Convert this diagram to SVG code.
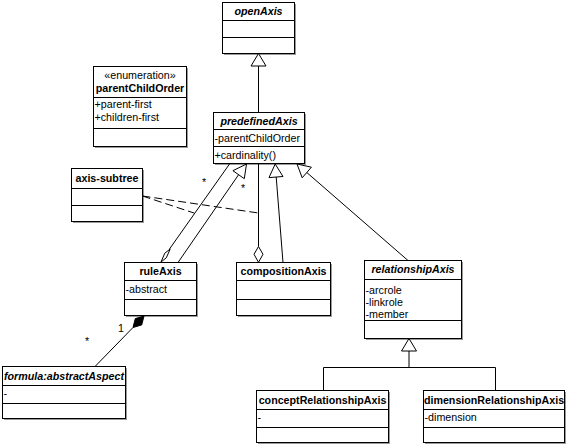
<svg xmlns="http://www.w3.org/2000/svg" width="569" height="444" viewBox="0 0 569 444">
<style>
.box{fill:#fff;stroke:#000;stroke-width:1}
.sh{fill:#9a9a9a;stroke:none}
.sep{stroke:#000;stroke-width:1}
text{font-family:"Liberation Sans",Arial,sans-serif;font-size:10.7px;fill:#000}
.t{font-weight:bold;text-anchor:middle}
.ti{font-weight:bold;font-style:italic;text-anchor:middle}
.c{text-anchor:middle}
.ln{stroke:#000;stroke-width:1;fill:none}
.dash{stroke:#000;stroke-width:1;fill:none;stroke-dasharray:8,4}
.tri{fill:#fff;stroke:#000;stroke-width:1}
.od{fill:#fff;stroke:#000;stroke-width:1}
.fd{fill:#000;stroke:#000;stroke-width:1}
</style>
<rect width="569" height="444" fill="#fff"/>

<g id="openAxis">
<rect class="sh" x="224" y="4" width="72" height="51"/>
<rect class="box" x="222.5" y="2.5" width="72" height="51"/>
<line class="sep" x1="222.5" y1="20.5" x2="294.5" y2="20.5"/>
<line class="sep" x1="222.5" y1="37.5" x2="294.5" y2="37.5"/>
<text class="ti" x="258.5" y="15">openAxis</text>
</g>

<g id="parentChildOrder">
<rect class="sh" x="95" y="68" width="93" height="80"/>
<rect class="box" x="93.5" y="66.5" width="93" height="80"/>
<line class="sep" x1="93.5" y1="97.5" x2="186.5" y2="97.5"/>
<line class="sep" x1="93.5" y1="128.5" x2="186.5" y2="128.5"/>
<text class="c" x="140" y="79">«enumeration»</text>
<text class="t" x="140" y="92">parentChildOrder</text>
<text x="94.5" y="108">+parent-first</text>
<text x="94.5" y="121">+children-first</text>
</g>

<g id="predefinedAxis">
<rect class="sh" x="215" y="114" width="91" height="51"/>
<rect class="box" x="213.5" y="112.5" width="91" height="51"/>
<line class="sep" x1="213.5" y1="129.5" x2="304.5" y2="129.5"/>
<line class="sep" x1="213.5" y1="146.5" x2="304.5" y2="146.5"/>
<text class="ti" x="259" y="125">predefinedAxis</text>
<text x="214.5" y="142">-parentChildOrder</text>
<text x="214.5" y="159">+cardinality()</text>
</g>

<g id="axis-subtree">
<rect class="sh" x="73" y="170" width="71" height="53"/>
<rect class="box" x="71.5" y="168.5" width="71" height="53"/>
<line class="sep" x1="71.5" y1="188.5" x2="142.5" y2="188.5"/>
<line class="sep" x1="71.5" y1="205.5" x2="142.5" y2="205.5"/>
<text class="t" x="107" y="182">axis-subtree</text>
</g>

<g id="ruleAxis">
<rect class="sh" x="126" y="264" width="72" height="53"/>
<rect class="box" x="124.5" y="262.5" width="72" height="53"/>
<line class="sep" x1="124.5" y1="280.5" x2="196.5" y2="280.5"/>
<line class="sep" x1="124.5" y1="299.5" x2="196.5" y2="299.5"/>
<text class="t" x="160.5" y="275">ruleAxis</text>
<text x="125.5" y="293">-abstract</text>
</g>

<g id="compositionAxis">
<rect class="sh" x="238" y="264" width="94" height="53"/>
<rect class="box" x="236.5" y="262.5" width="94" height="53"/>
<line class="sep" x1="236.5" y1="280.5" x2="330.5" y2="280.5"/>
<line class="sep" x1="236.5" y1="299.5" x2="330.5" y2="299.5"/>
<text class="t" x="283.5" y="275">compositionAxis</text>
</g>

<g id="relationshipAxis">
<rect class="sh" x="366" y="262" width="97" height="78"/>
<rect class="box" x="364.5" y="260.5" width="97" height="78"/>
<line class="sep" x1="364.5" y1="279.5" x2="461.5" y2="279.5"/>
<line class="sep" x1="364.5" y1="320.5" x2="461.5" y2="320.5"/>
<text class="ti" x="413" y="273">relationshipAxis</text>
<text x="365.5" y="294">-arcrole</text>
<text x="365.5" y="306">-linkrole</text>
<text x="365.5" y="318">-member</text>
</g>

<g id="formula-abstractAspect">
<rect class="sh" x="4" y="368" width="123" height="52"/>
<rect class="box" x="2.5" y="366.5" width="123" height="52"/>
<line class="sep" x1="2.5" y1="385.5" x2="125.5" y2="385.5"/>
<line class="sep" x1="2.5" y1="403.5" x2="125.5" y2="403.5"/>
<text class="ti" x="64" y="380">formula:abstractAspect</text>
<text x="3.5" y="397">-</text>
</g>

<g id="conceptRelationshipAxis">
<rect class="sh" x="258" y="392" width="132" height="52"/>
<rect class="box" x="256.5" y="390.5" width="132" height="52"/>
<line class="sep" x1="256.5" y1="409.5" x2="388.5" y2="409.5"/>
<line class="sep" x1="256.5" y1="427.5" x2="388.5" y2="427.5"/>
<text class="t" x="322.5" y="404">conceptRelationshipAxis</text>
<text x="257.5" y="421">-</text>
</g>

<g id="dimensionRelationshipAxis">
<rect class="sh" x="425" y="392" width="141" height="52"/>
<rect class="box" x="423.5" y="390.5" width="141" height="52"/>
<line class="sep" x1="423.5" y1="409.5" x2="564.5" y2="409.5"/>
<line class="sep" x1="423.5" y1="427.5" x2="564.5" y2="427.5"/>
<text class="t" x="494" y="404">dimensionRelationshipAxis</text>
<text x="424.5" y="421">-dimension</text>
</g>

<g id="connectors">
<!-- predefinedAxis -> openAxis -->
<line class="ln" x1="258.5" y1="66" x2="258.5" y2="112.5"/>
<polygon class="tri" points="258.5,53.5 251,66 266,66"/>

<!-- ruleAxis aggregation to predefinedAxis -->
<line class="ln" x1="169.5" y1="249" x2="229.5" y2="164"/>
<polygon class="od" points="161,262 164.8,253.2 170.2,249 166.3,257.8"/>

<!-- ruleAxis generalization -->
<line class="ln" x1="178" y1="262.5" x2="238.6" y2="174.7"/>
<polygon class="tri" points="246.5,164 244.3,178.7 232.9,170.7"/>

<!-- compositionAxis aggregation -->
<line class="ln" x1="258.5" y1="164" x2="258.5" y2="246.5"/>
<polygon class="od" points="258.5,246.5 263,254.3 258.5,262.3 254,254.3"/>

<!-- compositionAxis generalization -->
<line class="ln" x1="283" y1="262.5" x2="276.2" y2="177"/>
<polygon class="tri" points="275.2,164 283,176.5 269,177.6"/>

<!-- relationshipAxis generalization -->
<line class="ln" x1="408" y1="260.5" x2="306.8" y2="172.5"/>
<polygon class="tri" points="297,164 311.4,167.2 302.2,177.8"/>

<!-- axis-subtree association class dashed lines -->
<line class="dash" x1="142.5" y1="196" x2="258.5" y2="213"/>
<line class="dash" x1="142.5" y1="196" x2="194" y2="213"/>

<!-- composition ruleAxis - formula:abstractAspect -->
<line class="ln" x1="95" y1="366.5" x2="133" y2="327.5"/>
<polygon class="fd" points="144,316 141.7,324.9 133,327.5 135.3,318.6"/>

<!-- relationshipAxis children -->
<polygon class="tri" points="409,338.5 401.5,351 416.5,351"/>
<polyline class="ln" points="409,351 409,367.5"/>
<polyline class="ln" points="323.5,390.5 323.5,367.5 495.5,367.5 495.5,390.5"/>

<text class="c" x="204" y="186">*</text>
<text class="c" x="243" y="192">*</text>
<text class="c" x="87" y="345">*</text>
<text class="c" x="121" y="332">1</text>
</g>
</svg>
